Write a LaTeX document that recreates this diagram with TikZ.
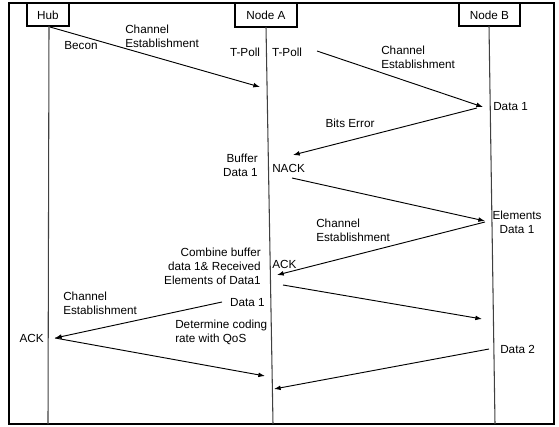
\documentclass[tikz,border=0pt]{standalone}
\usepackage{fontspec}
\setmainfont{Liberation Sans}
\usetikzlibrary{arrows.meta}
\begin{document}
\begin{tikzpicture}[x=0.75pt,y=-0.75pt,
  every node/.style={font=\fontsize{8.8}{10.6}\selectfont, inner sep=0pt},
  actor/.style={draw, line width=0.8pt},
  life/.style={draw=black!75, line width=0.8pt},
  msg/.style={draw, line width=0.7pt, -{Latex[length=5pt,width=3.6pt]}},
  lbl/.style={align=left},
  lblr/.style={align=right},
  lblc/.style={align=center}]
\useasboundingbox (0,0) rectangle (559,427);
\draw[line width=1.1pt] (9,3) rectangle (554,424);
% actors
\draw[actor] (27,3) rectangle (69,26);
\node (hub) at (48,15) {Hub};
\draw[actor] (235,3) rectangle (297,27);
\node (na) at (266,15) {Node A};
\draw[actor] (459,3) rectangle (520,26);
\node (nb) at (489.5,15) {Node B};
% lifelines
\coordinate (h0) at (49,26); \coordinate (h1) at (48,424);
\coordinate (a0) at (266,27); \coordinate (a1) at (273,424);
\coordinate (b0) at (489,26); \coordinate (b1) at (495,424);
\draw[life] (h0) -- (h1);
\draw[life] (a0) -- (a1);
\draw[life] (b0) -- (b1);
% message endpoints
\coordinate (m1s) at (50,27);   \coordinate (m1e) at (260,87);
\coordinate (m2s) at (317,51);  \coordinate (m2e) at (483,107);
\coordinate (m3s) at (477,108); \coordinate (m3e) at (293,155);
\coordinate (m4s) at (292,178); \coordinate (m4e) at (485,221);
\coordinate (m5s) at (485,222); \coordinate (m5e) at (277,275);
\coordinate (m6s) at (283,285); \coordinate (m6e) at (482,319);
\coordinate (m7s) at (222,302); \coordinate (m7e) at (55,338);
\coordinate (m8s) at (55,338);  \coordinate (m8e) at (265,376);
\coordinate (m9s) at (489,349); \coordinate (m9e) at (274,389);
\draw[msg] (m1s) -- (m1e);
\draw[msg] (m2s) -- (m2e);
\draw[msg] (m3s) -- (m3e);
\draw[msg] (m4s) -- (m4e);
\draw[msg] (m5s) -- (m5e);
\draw[msg] (m6s) -- (m6e);
\draw[msg] (m7s) -- (m7e);
\draw[msg] (m8s) -- (m8e);
\draw[msg] (m9s) -- (m9e);
% labels
\node (l1) at (81,46) {Becon};
\node[lbl, anchor=west] (l2) at (125,36) {Channel\\Establishment};
\node (l3) at (245,52) {T-Poll};
\node (l4) at (287,52) {T-Poll};
\node[lbl, anchor=west] (l5) at (381,57) {Channel\\Establishment};
\node[anchor=west] (l6) at (493,107) {Data 1};
\node (l7) at (350,123) {Bits Error};
\node[lblr, anchor=east] (l8) at (258,165) {Buffer\\Data 1};
\node[anchor=west] (l9) at (272,168) {NACK};
\node[lblc] (l10) at (517,222) {Elements\\Data 1};
\node[lbl, anchor=west] (l11) at (316,230) {Channel\\Establishment};
\node[anchor=west] (l12) at (272,264) {ACK};
\node[lblr, anchor=east] (l13) at (261,266) {Combine buffer\\data 1\& Received\\Elements of Data1};
\node[anchor=east] (l14) at (265,303) {Data 1};
\node[lbl, anchor=west] (l15) at (63,303) {Channel\\Establishment};
\node[anchor=east] (l16) at (44,338) {ACK};
\node[lbl, anchor=west] (l17) at (175,332) {Determine coding\\rate with QoS};
\node[anchor=west] (l18) at (500,349) {Data 2};
\end{tikzpicture}
\end{document}
